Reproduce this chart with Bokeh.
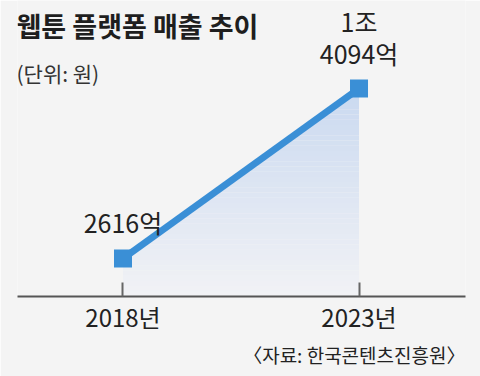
import numpy as np
from bokeh.plotting import figure
from bokeh.models import ColumnDataSource, FixedTicker, Label, Title
from bokeh.core.properties import value
from bokeh.embed import file_html
from bokeh.resources import INLINE

# ---- data ----
years = [2018, 2023]
revenue = [2616, 14094]          # 억 원
point_labels = ["2616억", "1조\n4094억"]
tick_labels = {2018: "2018년", 2023: "2023년"}
title_text = "웹툰 플랫폼 매출 추이"
unit_text = "(단위: 원)"
source_text = "〈자료: 한국콘텐츠진흥원〉"

BG = "#f4f4f4"
BLUE = "#3a8fd6"
KR = "'Noto Sans CJK KR', sans-serif"

W, H = 480, 376
p = figure(width=W, height=H, output_backend="svg", toolbar_location=None,
           x_range=(2015.765, 2025.256), y_range=(50, 20036),
           background_fill_color=BG, border_fill_color=BG,
           min_border_left=17, min_border_right=15, min_border_top=0,
           min_border_bottom=80, outline_line_color=None)
p.grid.visible = False
p.yaxis.visible = False

# gradient fill under the line (vertical bands)
y_lo, y_hi = p.y_range.start, max(revenue)
c_top = np.array([0xca, 0xd9, 0xf0])
c_bot = np.array([0xf1, 0xf2, 0xf5])
N = 40
for k in range(N):
    lo = y_lo + (y_hi - y_lo) * k / N
    hi = y_lo + (y_hi - y_lo) * (k + 1) / N
    xs = sorted(set([years[0], years[-1],
                     float(np.interp(lo, revenue, years)),
                     float(np.interp(hi, revenue, years))]))
    xs = np.array(xs)
    ly = np.interp(xs, years, revenue)
    t = (k + 0.5) / N
    col = c_bot + (c_top - c_bot) * t
    hexc = "#%02x%02x%02x" % tuple(int(round(v)) for v in col)
    p.varea(x=xs, y1=np.minimum(lo, ly), y2=np.minimum(hi, ly),
            fill_color=hexc, fill_alpha=1.0)

src = ColumnDataSource(dict(x=years, y=revenue))
p.line("x", "y", source=src, line_color=BLUE, line_width=7)
p.scatter("x", "y", source=src, marker="square", size=18,
          fill_color=BLUE, line_color=None)

# point labels, one text glyph per line (last line just above the marker)
LINE_STEP = 32
max_lines = max(len(s.split("\n")) for s in point_labels)
for i in range(max_lines):
    xs_, ys_, ts_ = [], [], []
    for x, y, s in zip(years, revenue, point_labels):
        parts = s.split("\n")
        j = len(parts) - 1 - i
        if j >= 0:
            xs_.append(x); ys_.append(y); ts_.append(parts[j])
    p.text(x=xs_, y=ys_, text=ts_, text_align="center",
           text_baseline="bottom", y_offset=-18 - LINE_STEP * i,
           text_font=value(KR), text_font_size="25px",
           text_color="#222222")

ax = p.xaxis[0]
ax.ticker = FixedTicker(ticks=years)
ax.major_label_overrides = tick_labels
ax.axis_line_color = "#555555"
ax.axis_line_width = 2
ax.major_tick_in = 14
ax.major_tick_out = 0
ax.major_tick_line_color = "#666666"
ax.major_tick_line_width = 2
ax.minor_tick_line_color = None
ax.major_label_standoff = 2
ax.major_label_text_font = KR
ax.major_label_text_font_size = "24px"
ax.major_label_text_color = "#222222"

p.add_layout(Label(x=-1, y=252, x_units="screen", y_units="screen",
                   text=title_text, text_font=KR, text_font_size="27px",
                   text_font_style="bold", text_color="#1e1e1e"))
p.add_layout(Label(x=-1, y=209, x_units="screen", y_units="screen",
                   text=unit_text, text_font=KR, text_font_size="21px",
                   text_color="#333333"))
p.add_layout(Title(text=source_text, align="right", text_font=KR,
                   text_font_size="19px", text_font_style="normal",
                   text_color="#222222", standoff=4), "below")

open("out.html", "w").write(file_html(p, INLINE))
